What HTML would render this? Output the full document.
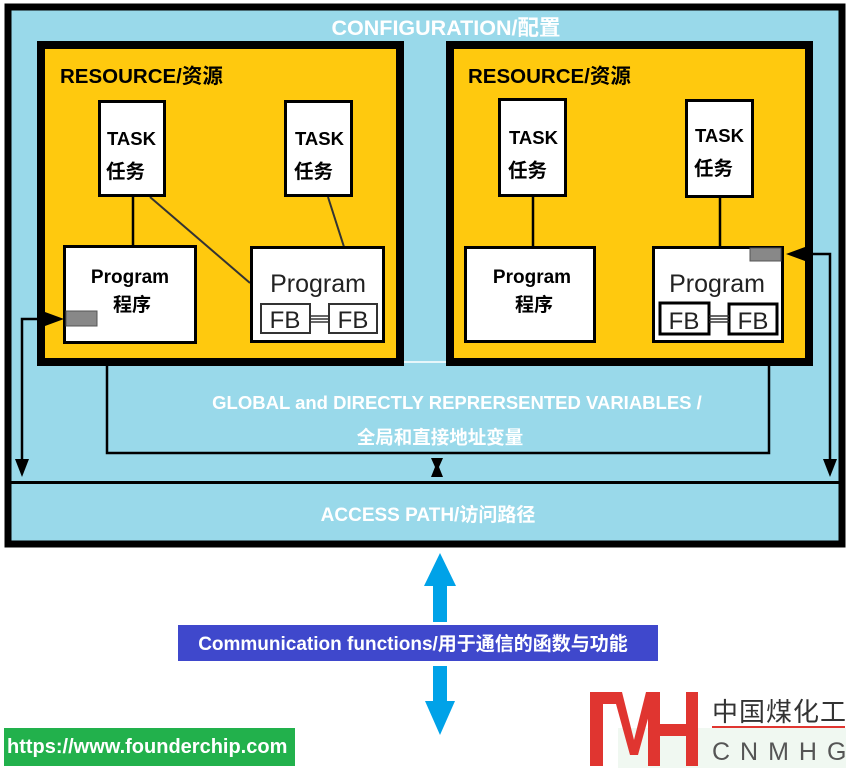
<!DOCTYPE html>
<html><head><meta charset="utf-8"><style>
body{margin:0;background:#fff;}
svg text{font-family:"Liberation Sans","Noto Sans CJK SC",sans-serif;}
</style></head><body>
<svg width="849" height="771" viewBox="0 0 849 771" xmlns="http://www.w3.org/2000/svg">
<rect x="0" y="0" width="849" height="771" fill="#fff"/>
<rect x="8" y="7" width="834" height="537" fill="#99D9EA" stroke="#000" stroke-width="7"/>
<text x="446" y="35" font-size="21.5" font-weight="bold" fill="#fff" text-anchor="middle">CONFIGURATION/配置</text>
<rect x="41" y="45" width="359" height="317" fill="#FFC90E" stroke="#000" stroke-width="8"/>
<rect x="450" y="45" width="359" height="317" fill="#FFC90E" stroke="#000" stroke-width="8"/>
<text x="60" y="83" font-size="20.5" font-weight="bold" fill="#000">RESOURCE/资源</text>
<text x="468" y="83" font-size="20.5" font-weight="bold" fill="#000">RESOURCE/资源</text>
<line x1="133" y1="197" x2="133" y2="246" stroke="#000" stroke-width="2.5"/>
<line x1="150" y1="197" x2="250" y2="283" stroke="#333" stroke-width="2"/>
<line x1="328" y1="197" x2="362" y2="303" stroke="#333" stroke-width="2"/>
<line x1="533" y1="197" x2="533" y2="246" stroke="#000" stroke-width="2.5"/>
<line x1="720" y1="197" x2="720" y2="246" stroke="#000" stroke-width="2.5"/>
<g fill="#fff" stroke="#000" stroke-width="3">
<rect x="99.5" y="101.5" width="65" height="94"/>
<rect x="285.5" y="101.5" width="66" height="94"/>
<rect x="499.5" y="99.5" width="66" height="96"/>
<rect x="686.5" y="100.5" width="66" height="96"/>
</g>
<g font-size="18.5" font-weight="bold" fill="#000">
<text x="107" y="145">TASK</text><text x="106" y="178" font-size="19.5">任务</text>
<text x="295" y="145">TASK</text><text x="294" y="178" font-size="19.5">任务</text>
<text x="509" y="144">TASK</text><text x="508" y="177" font-size="19.5">任务</text>
<text x="695" y="142">TASK</text><text x="694" y="175" font-size="19.5">任务</text>
</g>
<g fill="#fff" stroke="#000" stroke-width="3">
<rect x="64.5" y="246.5" width="131" height="96"/>
<rect x="251.5" y="247.5" width="132" height="94"/>
<rect x="465.5" y="247.5" width="129" height="94"/>
<rect x="653.5" y="247.5" width="129" height="94"/>
</g>
<g font-size="19" font-weight="bold" fill="#000" text-anchor="middle">
<text x="130" y="283">Program</text><text x="132" y="311">程序</text>
<text x="532" y="283">Program</text><text x="534" y="311">程序</text>
</g>
<text x="318" y="292" font-size="25" fill="#222" text-anchor="middle">Program</text>
<text x="717" y="292" font-size="25" fill="#222" text-anchor="middle">Program</text>
<rect x="66" y="311" width="31" height="15" fill="#888" stroke="#555"/>
<rect x="750" y="248" width="31" height="13" fill="#888" stroke="#555"/>
<g fill="#fff" stroke="#333" stroke-width="2">
<rect x="261" y="304" width="49" height="29"/>
<rect x="329" y="304" width="48" height="29"/>
</g>
<g fill="#fff" stroke="#000" stroke-width="3">
<rect x="660" y="303" width="49" height="31"/>
<rect x="729" y="304" width="48" height="30"/>
</g>
<g stroke="#333" stroke-width="1.5">
<line x1="310" y1="316" x2="329" y2="316"/><line x1="310" y1="319" x2="329" y2="319"/><line x1="310" y1="322" x2="329" y2="322"/>
<line x1="709" y1="316" x2="729" y2="316"/><line x1="709" y1="319" x2="729" y2="319"/><line x1="709" y1="322" x2="729" y2="322"/>
</g>
<g font-size="24" fill="#222" text-anchor="middle">
<text x="285" y="328">FB</text><text x="353" y="328">FB</text>
<text x="684" y="329">FB</text><text x="753" y="329">FB</text>
</g>
<polyline points="107,366 107,453 769,453 769,366" fill="none" stroke="#000" stroke-width="2.5"/>
<line x1="404" y1="362" x2="446" y2="362" stroke="#fff" stroke-width="1.5"/>
<text x="457" y="409" font-size="18.5" font-weight="bold" fill="#fff" text-anchor="middle">GLOBAL and DIRECTLY REPRERSENTED VARIABLES /</text>
<text x="440" y="444" font-size="18.5" font-weight="bold" fill="#fff" text-anchor="middle">全局和直接地址变量</text>
<line x1="11" y1="482.5" x2="840" y2="482.5" stroke="#000" stroke-width="3"/>
<text x="428" y="521" font-size="19" font-weight="bold" fill="#fff" text-anchor="middle">ACCESS PATH/访问路径</text>
<polyline points="22,460 22,319 52,319" fill="none" stroke="#000" stroke-width="2.5"/>
<polygon points="15,459 29,459 22,477" fill="#000"/>
<polygon points="45,312 64,319 45,326" fill="#000"/>
<polyline points="830,460 830,254 800,254" fill="none" stroke="#000" stroke-width="2.5"/>
<polygon points="823,459 837,459 830,477" fill="#000"/>
<polygon points="805,247 786,254 805,261" fill="#000"/>
<polygon points="431,458 443,458 439,467 443,477 431,477 435,467" fill="#000"/>
<polygon points="440,553 456,586 447,586 447,622 433,622 433,586 424,586" fill="#00A2E8"/>
<polygon points="433,666 447,666 447,701 455,701 440,735 425,701 433,701" fill="#00A2E8"/>
<rect x="178" y="625" width="480" height="36" fill="#3F48CC"/>
<text x="413" y="650" font-size="19" font-weight="bold" fill="#fff" text-anchor="middle">Communication functions/用于通信的函数与功能</text>
<rect x="4" y="728" width="291" height="38" fill="#22B14C"/>
<text x="7" y="753" font-size="20" font-weight="bold" fill="#fff">https://www.founderchip.com</text>
<rect x="618" y="728" width="228" height="40" fill="#F0F8F1"/>
<g fill="#E03530">
<rect x="590" y="692" width="13" height="74"/>
<polygon points="590,692 622,692 634,740 646,692 660,692 660,704 652,704 638,755 630,755 616,704 590,704"/>
<rect x="648" y="692" width="12" height="74"/>
<rect x="648" y="724" width="50" height="12"/>
<rect x="686" y="692" width="12" height="74"/>
</g>
<text x="712" y="721" font-size="26" fill="#333" letter-spacing="1">中国煤化工</text>
<rect x="712" y="726" width="133" height="2" fill="#E03530"/>
<text x="712" y="760" font-size="25" fill="#555" letter-spacing="10">CNMHG</text>
</svg>
</body></html>
